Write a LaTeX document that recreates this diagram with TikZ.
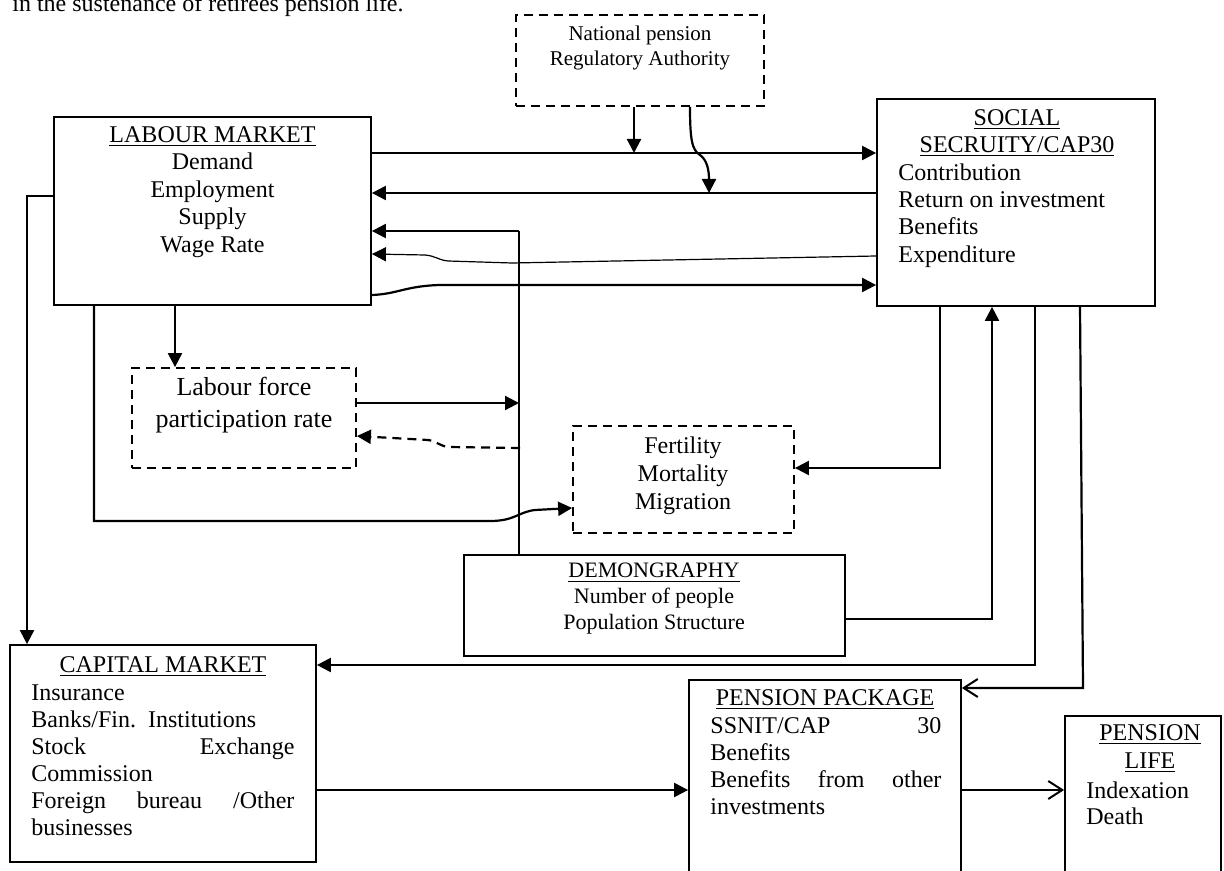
\documentclass[tikz,border=0pt]{standalone}
\usepackage{fontspec}
\setmainfont{Liberation Serif}
\usetikzlibrary{arrows.meta,fit,positioning}
\setlength{\parindent}{0pt}

\tikzset{
  panel/.style={draw,line width=0.9pt,inner sep=0pt},
  dpanel/.style={panel,dash pattern=on 4.5pt off 3pt},
  txt/.style={inner sep=0pt,font=\fontsize{12}{13.7}\selectfont},
  link/.style={line width=1.1pt},
  thinlink/.style={line width=0.6pt},
  arr/.style={-{Triangle[length=7pt,width=7pt]}},
  openarr/.style={-{Straight Barb[length=7pt,width=9pt,line width=1pt]}},
}

\begin{document}
\begin{tikzpicture}[x=0.5pt,y=-0.5pt]
\useasboundingbox (0,0) rectangle (1224,871);
% boxes
\node[dpanel,fit={(516,15) (764,106)}] (npra) {};
\node[panel,fit={(54,117) (371,305)}] (lm) {};
\node[panel,fit={(877,99) (1155,306)}] (ss) {};
\node[dpanel,fit={(132,368) (356,468)}] (lfpr) {};
\node[dpanel,fit={(573,426) (794,533)}] (fmm) {};
\node[panel,fit={(464,555) (845,656)}] (demo) {};
\node[panel,fit={(10,645) (316,862)}] (cm) {};
\node[panel,fit={(689,680) (961,890)}] (pp) {};
\node[panel,fit={(1065,716) (1221,890)}] (pl) {};

% texts
\node[txt,anchor=base west] (intro) at (12,12) {in the sustenance of retirees pension life.};
\node[txt,font=\fontsize{10.5}{12.5}\selectfont,align=center,anchor=north] (npratext) at (640,26)
  {National pension\\Regulatory Authority};
\node[txt,font=\fontsize{12}{13.75}\selectfont,align=center,anchor=north] (lmtext) at (212.5,126)
  {\underline{LABOUR MARKET}\\Demand\\Employment\\Supply\\Wage Rate};
\node[txt,font=\fontsize{12}{13.5}\selectfont,align=center,anchor=north] (sstitle) at (1017,109)
  {\underline{SOCIAL}\\\underline{SECRUITY/CAP30}};
\node[txt,align=left,anchor=north west] (sslist) at (898,163)
  {Contribution\\Return on investment\\Benefits\\Expenditure};
\node[txt,font=\fontsize{13}{16}\selectfont,align=center,anchor=north] (lfprtext) at (244,377)
  {Labour force\\participation rate};
\node[txt,font=\fontsize{12}{14}\selectfont,align=center,anchor=north] (fmmtext) at (683,436)
  {Fertility\\Mortality\\Migration};
\node[txt,font=\fontsize{11}{13}\selectfont,align=center,anchor=north] (demotext) at (654,563)
  {\underline{DEMONGRAPHY}\\Number of people\\Population Structure};
\node[txt,anchor=north] (cmtitle) at (163,656) {\underline{CAPITAL MARKET}};
\node[txt,font=\fontsize{12}{13.5}\selectfont,text width=131.5pt,align=left,anchor=north west] (cmlist) at (31,684)
  {Insurance\\Banks/Fin. Institutions\\Stock\hfill Exchange\\Commission\\Foreign\hfill bureau\hfill /Other\\businesses};
\node[txt,anchor=north] (pptitle) at (825,689) {\underline{PENSION PACKAGE}};
\node[txt,font=\fontsize{12}{13.6}\selectfont,text width=115.5pt,align=left,anchor=north west] (pplist) at (710,717)
  {SSNIT/CAP\hfill 30\\Benefits\\Benefits\hfill from\hfill other\\investments};
\node[txt,font=\fontsize{12}{14}\selectfont,align=center,anchor=north] (pltitle) at (1150,724)
  {\underline{PENSION}\\\underline{LIFE}};
\node[txt,font=\fontsize{12}{13}\selectfont,align=left,anchor=north west] (pllist) at (1086,781)
  {Indexation\\Death};

% junctions
\coordinate (regA) at (634,153);
\coordinate (regB) at (709,193);
\coordinate (supply) at (519,231);
\coordinate (lfprIn) at (519,403);
\coordinate (dashOut) at (520,448);
\coordinate (ssA) at (940,468);
\coordinate (ssB) at (992,619);
\coordinate (ssC) at (1035,665);
\coordinate (ssD) at (1083,688);

% labour market <-> social security
\draw[link,arr] (lm.east |- regA) -- (ss.west |- regA);
\draw[link,arr] (npra.south -| regA) -- (regA);
\draw[link,arr] (npra.south -| 690,0) .. controls (690,140) and (692,150) .. (700,155)
  .. controls (707,160) and (709,170) .. (regB);
\draw[link,arr] (ss.west |- regB) -- (lm.east |- regB);
\draw[thinlink] (demo.north -| supply) -- (supply);
\draw[link,arr] (supply) -- (lm.east |- supply);
\draw[thinlink,arr] (ss.west |- 0,256) -- (512,263) -- (448,261) .. controls (438,260) and (436,256) .. (425,255)
  -- (lm.east |- 0,254);
\draw[link,arr] (lm.east |- 0,295) .. controls (398,294) and (405,286) .. (440,285) -- (ss.west |- 0,285);

% labour market to the left and below
\draw[link,arr] (lm.west |- 0,196) -- (27,196) -- (cm.north -| 27,0);
\draw[link,arr] (lm.south -| 175,0) -- (lfpr.north -| 175,0);
\draw[link,arr] (lm.south -| 94,0) -- (94,521) -- (490,521) .. controls (515,521) and (518,512) .. (535,510)
  -- (fmm.west |- 0,508);
\draw[link,arr] (lfpr.east |- lfprIn) -- (lfprIn);
\draw[link,dash pattern=on 4.5pt off 3pt,arr] (dashOut) -- (448,447) .. controls (440,446) and (436,441) .. (428,440)
  -- (lfpr.east |- 0,436);

% social security below
\draw[link,arr] (ss.south -| ssA) -- (ssA) -- (fmm.east |- ssA);
\draw[link,arr] (demo.east |- ssB) -- (ssB) -- (ss.south -| ssB);
\draw[link,arr] (ss.south -| ssC) -- (ssC) -- (cm.east |- ssC);
\draw[link,openarr] (ss.south -| 1080,0) -- (ssD) -- (pp.east |- ssD);

% pension
\draw[link,arr] (cm.east |- 0,790) -- (pp.west |- 0,790);
\draw[link,openarr] (pp.east |- 0,790) -- (pl.west |- 0,790);
\end{tikzpicture}
\end{document}
